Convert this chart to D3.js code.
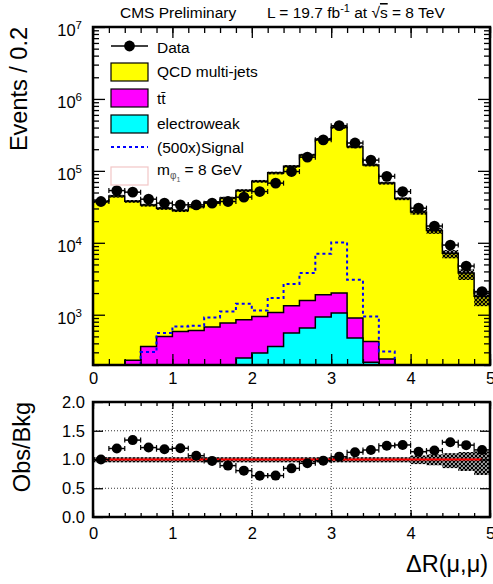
<!DOCTYPE html>
<html>
<head>
<meta charset="utf-8">
<script src="https://cdn.jsdelivr.net/npm/d3@7"></script>
<style>
  body { margin: 0; background: #fff; }
  text { font-family: "Liberation Sans", Arial, Helvetica, sans-serif; fill: #000; }
</style>
</head>
<body>
<div id="chart"></div>
<script>
// bins of delta R (width 0.2)
var binEdges = [0.0, 0.2, 0.4, 0.6, 0.8, 1.0, 1.2, 1.4, 1.6, 1.8, 2.0, 2.2, 2.4, 2.6, 2.8,
                3.0, 3.2, 3.4, 3.6, 3.8, 4.0, 4.2, 4.4, 4.6, 4.8, 5.0];
var binCenters = [0.1, 0.3, 0.5, 0.7, 0.9, 1.1, 1.3, 1.5, 1.7, 1.9, 2.1, 2.3, 2.5, 2.7, 2.9,
                  3.1, 3.3, 3.5, 3.7, 3.9, 4.1, 4.3, 4.5, 4.7, 4.9];

// events per bin
var dataCounts = [37500, 53200, 50600, 40400, 35600, 33700, 33700, 35600, 37500, 43100,
                  51600, 67500, 97800, 155000, 270000, 425000, 244000, 141000, 84000, 51600,
                  30300, 17100, 9300, 4750, 2100];
var qcd = [37500, 44500, 37600, 33100, 29700, 27600, 31000, 35800, 41200, 52600,
           70900, 92700, 114300, 164400, 273600, 403000, 216100, 120600, 67500, 41200,
           26700, 14800, 7150, 3800, 1800];
var ttbar = [0, 150, 232, 363, 500, 586, 605, 675, 617, 603,
             653, 714, 777, 927, 966, 944, 424, 208, 193, 0,
             0, 0, 0, 0, 0];
var ewk = [0, 0, 0, 0, 0, 0, 0, 0, 150, 250,
           294, 363, 557, 653, 929, 1056, 475, 218, 50, 0,
           0, 0, 0, 0, 0];
var signal500 = [0, 0, 0, 303, 557, 688, 703, 917, 1111, 1422,
                 1148, 1706, 2680, 3796, 7035, 10100, 3063, 947, 309, 0,
                 0, 0, 0, 0, 0];
// relative background uncertainty (up / down)
var uncUp = [0.04, 0.04, 0.04, 0.04, 0.04, 0.04, 0.04, 0.04, 0.04, 0.04,
             0.04, 0.04, 0.04, 0.04, 0.04, 0.04, 0.04, 0.04, 0.04, 0.04,
             0.07, 0.09, 0.11, 0.13, 0.14];
var uncDown = [0.05, 0.05, 0.05, 0.05, 0.05, 0.05, 0.05, 0.05, 0.05, 0.05,
               0.05, 0.05, 0.05, 0.05, 0.05, 0.05, 0.05, 0.05, 0.05, 0.05,
               0.08, 0.10, 0.15, 0.20, 0.27];

var xTickLabels = [0, 1, 2, 3, 4, 5];
var logTickValues = [1e3, 1e4, 1e5, 1e6, 1e7];
var logTickPowers = ["3", "4", "5", "6", "7"];
var ratioTickValues = [0, 0.5, 1.0, 1.5, 2.0];

// totals of the stack
var ttew = ewk.map(function(v, i) { return v + ttbar[i]; });
var totalBkg = qcd.map(function(v, i) { return v + ttew[i]; });
var ratio = dataCounts.map(function(v, i) { return v / totalBkg[i]; });

var width = 493, height = 584;
var mainP = {x0: 93, x1: 490, y0: 27, y1: 365};
var ratP = {y0: 402, y1: 517};
var yMin = 200, yMax = 1e7;

var svg = d3.select("#chart").append("svg")
  .attr("width", width)
  .attr("height", height);

var defs = svg.append("defs");
var pat = defs.append("pattern")
  .attr("id", "hatch")
  .attr("patternUnits", "userSpaceOnUse")
  .attr("width", 4).attr("height", 4);
pat.append("path")
  .attr("d", "M0,0L4,4M4,0L0,4M-1,3L1,5M3,-1L5,1M-1,1L1,-1M3,5L5,3")
  .attr("stroke", "#000").attr("stroke-width", 1.25);

var x = d3.scaleLinear().domain([0, 5]).range([mainP.x0, mainP.x1]);
var y = d3.scaleLog().domain([yMin, yMax]).range([mainP.y1, mainP.y0]);
var yr = d3.scaleLinear().domain([0, 2]).range([ratP.y1, ratP.y0]);

// step histogram outline (drops to the bottom at both ends)
function stepLine(vals) {
  var pts = [[binEdges[0], yMin]];
  vals.forEach(function(v, i) { pts.push([binEdges[i], Math.max(v, yMin)]); });
  pts.push([binEdges[binEdges.length - 1], Math.max(vals[vals.length - 1], yMin)]);
  pts.push([binEdges[binEdges.length - 1], yMin]);
  return d3.line()
    .x(function(d) { return x(d[0]); })
    .y(function(d) { return y(d[1]); })
    .curve(d3.curveStepAfter)(pts);
}

var main = svg.append("g");

// stacked histograms, drawn back to front like THStack
main.append("path").attr("d", stepLine(totalBkg))
  .attr("fill", "#ffff00").attr("stroke", "#000").attr("stroke-width", 1.5);
main.append("path").attr("d", stepLine(ttew))
  .attr("fill", "#ff00ff").attr("stroke", "#000").attr("stroke-width", 1.5);
main.append("path").attr("d", stepLine(ewk))
  .attr("fill", "#00ffff").attr("stroke", "#000").attr("stroke-width", 1.5);

// signal x500
main.append("path").attr("d", stepLine(signal500))
  .attr("fill", "none").attr("stroke", "#0000ff").attr("stroke-width", 2)
  .attr("stroke-dasharray", "3,3");

// background uncertainty band
main.selectAll("rect.unc")
  .data(totalBkg)
  .enter().append("rect")
  .attr("class", "unc")
  .attr("x", function(d, i) { return x(binEdges[i]); })
  .attr("width", function(d, i) { return x(binEdges[i + 1]) - x(binEdges[i]); })
  .attr("y", function(d, i) { return y(d * (1 + uncUp[i])); })
  .attr("height", function(d, i) { return y(d * (1 - uncDown[i])) - y(d * (1 + uncUp[i])); })
  .attr("fill", "url(#hatch)");

// data points with bin-width bars
function drawPoints(g, vals, yScale, r) {
  var pts = g.selectAll("g.pt").data(vals).enter().append("g").attr("class", "pt");
  pts.append("line")
    .attr("x1", function(d, i) { return x(binEdges[i]); })
    .attr("x2", function(d, i) { return x(binEdges[i + 1]); })
    .attr("y1", function(d) { return yScale(d); })
    .attr("y2", function(d) { return yScale(d); })
    .attr("stroke", "#000").attr("stroke-width", 1.5);
  [0, 1].forEach(function(k) {
    pts.append("line")
      .attr("x1", function(d, i) { return x(binEdges[i + k]); })
      .attr("x2", function(d, i) { return x(binEdges[i + k]); })
      .attr("y1", function(d) { return yScale(d) - 2.5; })
      .attr("y2", function(d) { return yScale(d) + 2.5; })
      .attr("stroke", "#000").attr("stroke-width", 1.2);
  });
  pts.append("circle")
    .attr("cx", function(d, i) { return x(binCenters[i]); })
    .attr("cy", function(d) { return yScale(d); })
    .attr("r", r)
    .attr("fill", "#000");
}
drawPoints(main, dataCounts, y, 5.4);

// ---- axes of the main pad (ticks pointing inward)
var minorX = x.ticks(25);
main.append("g").attr("transform", "translate(0," + mainP.y1 + ")")
  .call(d3.axisBottom(x).tickValues(minorX).tickSize(-6).tickFormat(""));
main.append("g").attr("transform", "translate(0," + mainP.y1 + ")")
  .call(d3.axisBottom(x).tickValues(xTickLabels).tickSize(-11).tickPadding(7).tickFormat(d3.format("d")));
main.append("g").attr("transform", "translate(0," + mainP.y0 + ")")
  .call(d3.axisTop(x).tickValues(minorX).tickSize(-6).tickFormat(""));
main.append("g").attr("transform", "translate(0," + mainP.y0 + ")")
  .call(d3.axisTop(x).tickValues(xTickLabels).tickSize(-11).tickFormat(""));

var minorY = y.ticks().filter(function(v) { return logTickValues.indexOf(v) < 0; });
main.append("g").attr("transform", "translate(" + mainP.x0 + ",0)")
  .call(d3.axisLeft(y).tickValues(minorY).tickSize(-6).tickFormat(""));
main.append("g").attr("transform", "translate(" + mainP.x0 + ",0)")
  .call(d3.axisLeft(y).tickValues(logTickValues).tickSize(-12).tickFormat(""));
main.append("g").attr("transform", "translate(" + mainP.x1 + ",0)")
  .call(d3.axisRight(y).tickValues(minorY).tickSize(-6).tickFormat(""));
main.append("g").attr("transform", "translate(" + mainP.x1 + ",0)")
  .call(d3.axisRight(y).tickValues(logTickValues).tickSize(-12).tickFormat(""));

logTickValues.forEach(function(v, i) {
  var t = main.append("text")
    .attr("x", 82).attr("y", y(v) + 9)
    .attr("text-anchor", "end")
    .style("font-size", "16.5px");
  t.append("tspan").text("10");
  t.append("tspan").attr("dy", -7).style("font-size", "11.5px").text(logTickPowers[i]);
});

main.append("rect")
  .attr("x", mainP.x0).attr("y", mainP.y0)
  .attr("width", mainP.x1 - mainP.x0).attr("height", mainP.y1 - mainP.y0)
  .attr("fill", "none").attr("stroke", "#000").attr("stroke-width", 2.5);

// ---- ratio pad
var rat = svg.append("g");
[1, 2, 3, 4].forEach(function(v) {
  rat.append("line").attr("x1", x(v)).attr("x2", x(v))
    .attr("y1", ratP.y0).attr("y2", ratP.y1)
    .attr("stroke", "#000").attr("stroke-width", 0.8).attr("stroke-dasharray", "1,2");
});
[0.5, 1.0, 1.5].forEach(function(v) {
  rat.append("line").attr("x1", mainP.x0).attr("x2", mainP.x1)
    .attr("y1", yr(v)).attr("y2", yr(v))
    .attr("stroke", "#000").attr("stroke-width", 0.8).attr("stroke-dasharray", "1,2");
});

rat.selectAll("rect.unc")
  .data(uncUp)
  .enter().append("rect")
  .attr("class", "unc")
  .attr("x", function(d, i) { return x(binEdges[i]); })
  .attr("width", function(d, i) { return x(binEdges[i + 1]) - x(binEdges[i]); })
  .attr("y", function(d) { return yr(1 + d); })
  .attr("height", function(d, i) { return yr(1 - uncDown[i]) - yr(1 + d); })
  .attr("fill", "url(#hatch)");

rat.append("line")
  .attr("x1", x(binCenters[0])).attr("x2", x(binCenters[binCenters.length - 1]))
  .attr("y1", yr(1)).attr("y2", yr(1))
  .attr("stroke", "#ff0000").attr("stroke-width", 2);

drawPoints(rat, ratio, yr, 5);

rat.append("g").attr("transform", "translate(0," + ratP.y1 + ")")
  .call(d3.axisBottom(x).tickValues(minorX).tickSize(-4).tickFormat(""));
rat.append("g").attr("transform", "translate(0," + ratP.y1 + ")")
  .call(d3.axisBottom(x).tickValues(xTickLabels).tickSize(-7).tickPadding(10).tickFormat(d3.format("d")));
rat.append("g").attr("transform", "translate(0," + ratP.y0 + ")")
  .call(d3.axisTop(x).tickValues(minorX).tickSize(-4).tickFormat(""));
rat.append("g").attr("transform", "translate(0," + ratP.y0 + ")")
  .call(d3.axisTop(x).tickValues(xTickLabels).tickSize(-7).tickFormat(""));
rat.append("g").attr("transform", "translate(" + mainP.x0 + ",0)")
  .call(d3.axisLeft(yr).tickValues(ratioTickValues).tickSize(-10).tickPadding(8).tickFormat(d3.format(".1f")));
rat.append("g").attr("transform", "translate(" + mainP.x1 + ",0)")
  .call(d3.axisRight(yr).tickValues(ratioTickValues).tickSize(-10).tickFormat(""));

rat.append("rect")
  .attr("x", mainP.x0).attr("y", ratP.y0)
  .attr("width", mainP.x1 - mainP.x0).attr("height", ratP.y1 - ratP.y0)
  .attr("fill", "none").attr("stroke", "#000").attr("stroke-width", 2.5);

// axis styling
svg.selectAll(".domain").remove();
svg.selectAll(".tick line").attr("stroke", "#000").attr("stroke-width", 1.3);
svg.selectAll(".tick text")
  .style("font-size", "16.5px")
  .style("font-family", "'Liberation Sans', Arial, sans-serif")
  .attr("fill", "#000");

// ---- titles
svg.append("text")
  .attr("transform", "translate(27," + mainP.y0 + ") rotate(-90)")
  .attr("text-anchor", "end")
  .style("font-size", "23.5px")
  .text("Events / 0.2");
svg.append("text")
  .attr("transform", "translate(30," + ratP.y0 + ") rotate(-90)")
  .attr("text-anchor", "end")
  .style("font-size", "23.5px")
  .text("Obs/Bkg");
svg.append("text")
  .attr("x", 488).attr("y", 572)
  .attr("text-anchor", "end")
  .style("font-size", "23.5px")
  .text("\u0394R(\u03bc,\u03bc)");

svg.append("text").attr("x", 120).attr("y", 18)
  .style("font-size", "15.5px").text("CMS Preliminary");
var lumi = svg.append("text").attr("x", 267).attr("y", 18).style("font-size", "15.5px");
lumi.append("tspan").text("L = 19.7 fb");
lumi.append("tspan").attr("dy", -6).style("font-size", "11px").text("-1");
lumi.append("tspan").attr("dy", 6).text(" at \u221a");
lumi.append("tspan").style("text-decoration", "overline").text("s");
lumi.append("tspan").text(" = 8 TeV");

// ---- legend
var leg = svg.append("g");
var lx0 = 111, lx1 = 148, tx = 157;
leg.append("line").attr("x1", lx0).attr("x2", lx1).attr("y1", 46).attr("y2", 46)
  .attr("stroke", "#000").attr("stroke-width", 1.5);
leg.append("circle").attr("cx", (lx0 + lx1) / 2).attr("cy", 46).attr("r", 5.4).attr("fill", "#000");

var boxes = [
  {y: 72, fill: "#ffff00", stroke: "#000"},
  {y: 98, fill: "#ff00ff", stroke: "#000"},
  {y: 124, fill: "#00ffff", stroke: "#000"},
  {y: 176, fill: "none", stroke: "#f2c6c6"}
];
boxes.forEach(function(b) {
  leg.append("rect").attr("x", lx0).attr("y", b.y - 9).attr("width", lx1 - lx0).attr("height", 18)
    .attr("fill", b.fill).attr("stroke", b.stroke).attr("stroke-width", 1.2);
});
leg.append("line").attr("x1", lx0).attr("x2", lx1).attr("y1", 147).attr("y2", 147)
  .attr("stroke", "#0000ff").attr("stroke-width", 2).attr("stroke-dasharray", "3,3");

function legText(yc, s) {
  return leg.append("text").attr("x", tx).attr("y", yc).attr("dy", "0.36em")
    .style("font-size", "15.5px").text(s);
}
legText(47, "Data");
legText(71, "QCD multi-jets");
legText(98, "tt\u0304");
legText(123, "electroweak");
legText(147, "(500x)Signal");
var mt = leg.append("text").attr("x", tx).attr("y", 175).style("font-size", "15.5px");
mt.append("tspan").text("m");
mt.append("tspan").attr("dy", 4).style("font-size", "10px").attr("fill", "#555").text("\u03c6");
mt.append("tspan").attr("dy", 3).style("font-size", "7px").attr("fill", "#555").text("1");
mt.append("tspan").attr("dy", -7).text(" = 8 GeV");
</script>
</body>
</html>
